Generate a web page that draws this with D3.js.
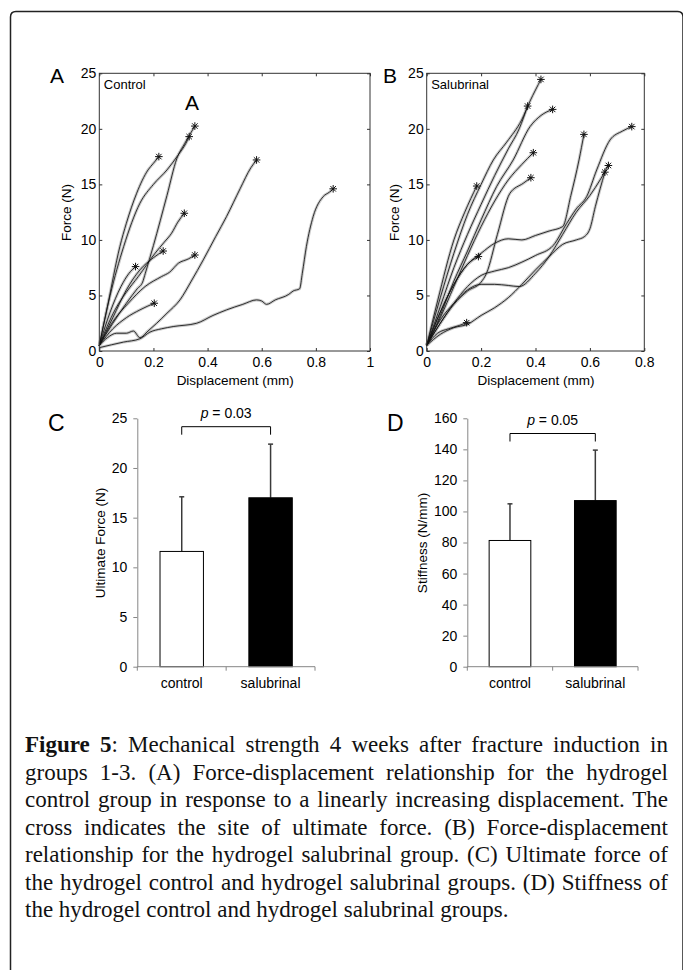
<!DOCTYPE html>
<html><head>
<meta charset="utf-8">
<title>Figure 5 - mechanical strength</title>
<script src="https://d3js.org/d3.v7.min.js"></script>
<style>
  body { margin: 0; background: #fff; }
  #wrap { position: relative; width: 683px; height: 970px; overflow: hidden; }
  svg text { font-family: "Liberation Sans", Arial, sans-serif; fill: #000; }
  #caption {
    position: absolute; left: 25px; top: 731px; width: 643px;
    font-family: "Liberation Serif", "Times New Roman", serif;
    font-size: 23px; line-height: 27.5px; color: #111;
  }
  #caption div { text-align: justify; text-align-last: justify; }
  #caption div.last { text-align-last: left; }
</style>
</head>
<body>
<div id="wrap">
  <svg id="fig" width="683" height="970"></svg>
  <div id="caption"></div>
</div>

<script>
// ---- data ----
const forceTicks = [0, 5, 10, 15, 20, 25];
const dispTicksA = [0, 0.2, 0.4, 0.6, 0.8, 1];
const dispTicksB = [0, 0.2, 0.4, 0.6, 0.8];

// each curve: [displacement (mm), force (N)], last point = ultimate force (star)
const controlCurves = [
  [[0,0.5],[0.03,4],[0.076,9.4],[0.1,11.5],[0.138,14.2],[0.18,16.3],[0.2,16.9],[0.22,17.5]],
  [[0,0.5],[0.04,5],[0.09,9.4],[0.15,13.3],[0.2,15],[0.25,16.3],[0.29,17.6],[0.32,18.7],[0.332,19.3]],
  [[0,0.5],[0.05,2.5],[0.1,4.3],[0.14,5.6],[0.16,6.2],[0.17,7],[0.2,9.5],[0.25,14],[0.286,17.3],[0.316,18.7],[0.353,20.25]],
  [[0,0.5],[0.058,3.7],[0.1,5.3],[0.144,6.7],[0.206,8.8],[0.24,9.8],[0.267,10.6],[0.29,11.6],[0.314,12.4]],
  [[0,0.5],[0.05,3],[0.1,5.5],[0.15,7.3],[0.2,8.4],[0.236,9.0]],
  [[0,0.5],[0.046,2.5],[0.107,4.3],[0.169,5.8],[0.23,6.7],[0.26,7.1],[0.292,7.9],[0.33,8.3],[0.353,8.64]],
  [[0,0.5],[0.04,3.5],[0.08,5.8],[0.11,7],[0.134,7.6]],
  [[0,0.5],[0.05,2],[0.1,3],[0.15,3.7],[0.203,4.3]],
  [[0,0.5],[0.03,1.2],[0.064,1.6],[0.1,1.6],[0.126,1.8],[0.15,1.2],[0.18,1.8],[0.212,2.5],[0.25,3.4],[0.298,4.6],[0.34,6.3],[0.384,8.2],[0.43,10.3],[0.47,12.1],[0.52,14.6],[0.56,16.5],[0.581,17.2]],
  [[0,0.3],[0.089,0.8],[0.15,1.1],[0.187,1.7],[0.23,2],[0.273,2.2],[0.36,2.5],[0.42,3.2],[0.47,3.7],[0.53,4.2],[0.581,4.6],[0.6,4.5],[0.618,4.2],[0.65,4.6],[0.7,5.1],[0.716,5.4],[0.74,5.6],[0.75,7],[0.765,9.4],[0.79,12.1],[0.827,13.9],[0.85,14.3],[0.864,14.6]]
];

const salubrinalCurves = [
  [[0,0.5],[0.04,4.5],[0.1,10],[0.14,12.5],[0.184,14.85]],
  [[0,0.5],[0.05,4.8],[0.1,8.8],[0.15,12.3],[0.2,15],[0.245,17.2],[0.294,18.8],[0.349,20.8],[0.38,22.5],[0.42,24.45]],
  [[0,0.5],[0.05,4],[0.1,7.5],[0.15,10.5],[0.2,13.2],[0.25,15.8],[0.3,18.2],[0.34,20],[0.371,22.05]],
  [[0,0.5],[0.05,3.2],[0.1,6.3],[0.15,9],[0.2,11.8],[0.257,14.8],[0.318,17.2],[0.38,20.2],[0.42,21.2],[0.463,21.75]],
  [[0,0.5],[0.05,3],[0.1,5.8],[0.15,8.6],[0.2,11.2],[0.25,13.5],[0.3,15.4],[0.35,16.8],[0.392,17.85]],
  [[0,0.5],[0.05,2.5],[0.1,4.2],[0.15,5.4],[0.2,6.2],[0.22,7],[0.26,10.5],[0.306,14.2],[0.355,15.1],[0.383,15.6]],
  [[0,0.5],[0.05,3.5],[0.1,6],[0.15,7.8],[0.2,8.8],[0.25,9.7],[0.3,10.1],[0.35,10],[0.4,10.4],[0.45,10.8],[0.5,11.2],[0.53,14],[0.56,17.2],[0.578,19.5]],
  [[0,0.5],[0.05,2.5],[0.1,4.3],[0.15,5.8],[0.2,6.8],[0.25,7.2],[0.3,7.5],[0.35,8],[0.4,8.6],[0.465,9.5],[0.515,11.5],[0.55,12.8],[0.588,13.9],[0.625,16.3],[0.674,19],[0.72,19.8],[0.754,20.2]],
  [[0,0.5],[0.05,2.8],[0.1,4.3],[0.15,5.5],[0.2,6],[0.25,6],[0.3,5.9],[0.34,5.8],[0.4,7],[0.45,8.5],[0.5,10.5],[0.55,12.5],[0.6,14],[0.64,15.5],[0.668,16.7]],
  [[0,0.5],[0.05,1.5],[0.1,2.1],[0.15,2.4],[0.2,3.2],[0.25,3.9],[0.3,4.8],[0.35,6],[0.4,7.3],[0.45,8.5],[0.5,9.6],[0.55,10],[0.58,10.3],[0.6,11],[0.62,13],[0.655,16.1]],
  [[0,0.5],[0.04,1.6],[0.08,2],[0.12,2.3],[0.147,2.55]],
  [[0,0.5],[0.05,3.5],[0.1,6],[0.15,7.8],[0.19,8.5]]
];

const groups = ["control", "salubrinal"];
const ultimateMean = [11.6, 17.0];
const ultimateSD = [5.5, 5.4];
const ultimateTicks = [0, 5, 10, 15, 20, 25];
const stiffMean = [81.3, 107];
const stiffSD = [23.6, 32.5];
const stiffTicks = [0, 20, 40, 60, 80, 100, 120, 140, 160];

const captionLines = [
  "<b>Figure 5</b>: Mechanical strength 4 weeks after fracture induction in",
  "groups 1-3. (A) Force-displacement relationship for the hydrogel",
  "control group in response to a linearly increasing displacement. The",
  "cross indicates the site of ultimate force. (B) Force-displacement",
  "relationship for the hydrogel salubrinal group. (C) Ultimate force of",
  "the hydrogel control and hydrogel salubrinal groups. (D) Stiffness of",
  "the hydrogel control and hydrogel salubrinal groups."
];

const svg = d3.select("#fig");

// outer frame (left, top, and the edge of the right side)
svg.append("path")
   .attr("d", "M10.5,975 V17 Q10.5,11.5 16,11.5 H677.5 Q683,11.5 683,17 V975")
   .attr("fill", "none").attr("stroke", "#222").attr("stroke-width", 1.5);

// asterisk marker like matlab '*'
function star(r) {
  const a = r * 0.72;
  return `M${-r},0L${r},0M0,${-r}L0,${r}M${-a},${-a}L${a},${a}M${-a},${a}L${a},${-a}`;
}

// ---- panels A and B ----
function curvePanel(curves, xMax, xTicks, box, name, letter) {
  const x = d3.scaleLinear().domain([0, xMax]).range([box.x0, box.x1]);
  const y = d3.scaleLinear().domain([0, 25]).range([box.y0, box.y1]);
  const g = svg.append("g");

  const line = d3.line().x(d => x(d[0])).y(d => y(d[1])).curve(d3.curveMonotoneX);

  // gray halo then dark trace
  g.selectAll("path.halo").data(curves).join("path")
    .attr("class", "halo").attr("d", line)
    .attr("fill", "none").attr("stroke", "#b4b4b4").attr("stroke-width", 3)
    .attr("stroke-opacity", 0.7).attr("stroke-linejoin", "round");
  g.selectAll("path.trace").data(curves).join("path")
    .attr("class", "trace").attr("d", line)
    .attr("fill", "none").attr("stroke", "#111").attr("stroke-width", 0.85)
    .attr("stroke-linejoin", "round");

  g.selectAll("path.star").data(curves).join("path")
    .attr("class", "star")
    .attr("transform", c => `translate(${x(c[c.length-1][0])},${y(c[c.length-1][1])})`)
    .attr("d", star(3.8))
    .attr("stroke", "#111").attr("stroke-width", 1).attr("fill", "none");

  // box
  g.append("rect").attr("x", box.x0).attr("y", box.y1)
    .attr("width", box.x1 - box.x0).attr("height", box.y0 - box.y1)
    .attr("fill", "none").attr("stroke", "#333").attr("stroke-width", 1);

  const fmt = d => String(d);
  const bottom = g.append("g").attr("transform", `translate(0,${box.y0})`)
    .call(d3.axisBottom(x).tickValues(xTicks).tickFormat(fmt).tickSizeInner(-3).tickSizeOuter(0).tickPadding(6));
  const top = g.append("g").attr("transform", `translate(0,${box.y1})`)
    .call(d3.axisTop(x).tickValues(xTicks).tickFormat("").tickSizeInner(-3).tickSizeOuter(0));
  const left = g.append("g").attr("transform", `translate(${box.x0},0)`)
    .call(d3.axisLeft(y).tickValues(forceTicks).tickFormat(fmt).tickSizeInner(-3).tickSizeOuter(0).tickPadding(3));
  const right = g.append("g").attr("transform", `translate(${box.x1},0)`)
    .call(d3.axisRight(y).tickValues(forceTicks).tickFormat("").tickSizeInner(-3).tickSizeOuter(0));
  [bottom, top, left, right].forEach(a => {
    a.select(".domain").remove();
    a.selectAll("line").attr("stroke", "#333");
    a.selectAll("text").attr("font-size", 14).attr("font-family", "Liberation Sans, Arial, sans-serif").attr("fill", "#000");
  });

  g.append("text").attr("x", (box.x0 + box.x1) / 2 + 0.5).attr("y", 385)
    .attr("text-anchor", "middle").attr("font-size", 13.5).text("Displacement (mm)");
  g.append("text").attr("transform", `translate(${box.x0 - 28},212.5) rotate(-90)`)
    .attr("text-anchor", "middle").attr("font-size", 13.5).text("Force (N)");
  g.append("text").attr("x", box.x0 + 4.5).attr("y", 89).attr("font-size", 13).text(name);
  g.append("text").attr("x", letter.x).attr("y", 83).attr("font-size", 21).text(letter.t);
  return {x, y};
}

curvePanel(controlCurves, 1, dispTicksA, {x0: 99.3, x1: 370, y0: 351, y1: 73.3}, "Control", {t: "A", x: 50});
curvePanel(salubrinalCurves, 0.8, dispTicksB, {x0: 426.7, x1: 644.3, y0: 351, y1: 73.3}, "Salubrinal", {t: "B", x: 383});

// the stray letter inside panel A
svg.append("text").attr("x", 185).attr("y", 110).attr("font-size", 21).text("A");

// ---- panels C and D ----
function barPanel(means, sds, ticks, yMax, box, title, titleX, pText, bracketY, letter) {
  const x = d3.scaleBand().domain(groups).range([box.x0, box.x1]).paddingInner(0.5).paddingOuter(0.25);
  const y = d3.scaleLinear().domain([0, yMax]).range([box.y0, box.y1]);
  const g = svg.append("g");
  const axisGray = "#868686";

  const rows = groups.map((k, i) => ({k, m: means[i], sd: sds[i]}));

  // error bars (upper only)
  g.selectAll("line.err").data(rows).join("line").attr("class", "err")
    .attr("x1", d => x(d.k) + x.bandwidth() / 2).attr("x2", d => x(d.k) + x.bandwidth() / 2)
    .attr("y1", d => y(d.m)).attr("y2", d => y(d.m + d.sd))
    .attr("stroke", "#3a3a3a").attr("stroke-width", 1.5);
  g.selectAll("line.cap").data(rows).join("line").attr("class", "cap")
    .attr("x1", d => x(d.k) + x.bandwidth() / 2 - 2.5).attr("x2", d => x(d.k) + x.bandwidth() / 2 + 2.5)
    .attr("y1", d => y(d.m + d.sd)).attr("y2", d => y(d.m + d.sd))
    .attr("stroke", "#3a3a3a").attr("stroke-width", 1.5);

  g.selectAll("rect.bar").data(rows).join("rect").attr("class", "bar")
    .attr("x", d => x(d.k) + 0.5).attr("width", x.bandwidth() - 1)
    .attr("y", d => y(d.m)).attr("height", d => box.y0 - y(d.m))
    .attr("fill", (d, i) => i === 0 ? "#fff" : "#000")
    .attr("stroke", "#000").attr("stroke-width", 1);

  // y axis
  const ya = g.append("g").attr("transform", `translate(${box.x0},0)`)
    .call(d3.axisLeft(y).tickValues(ticks).tickSizeInner(4).tickSizeOuter(0).tickPadding(6));
  ya.select(".domain").attr("stroke", axisGray);
  ya.selectAll("line").attr("stroke", axisGray);
  ya.selectAll("text").attr("font-size", 14).attr("font-family", "Liberation Sans, Arial, sans-serif").attr("fill", "#000");

  // x axis with category boundary ticks
  const xa = g.append("g").attr("transform", `translate(0,${box.y0})`);
  xa.append("line").attr("x1", box.x0).attr("x2", box.x1).attr("stroke", axisGray);
  const bounds = [box.x0, (box.x0 + box.x1) / 2, box.x1];
  xa.selectAll("line.tk").data(bounds).join("line").attr("class", "tk")
    .attr("x1", d => d).attr("x2", d => d).attr("y1", 0).attr("y2", 4).attr("stroke", axisGray);
  xa.selectAll("text").data(groups).join("text")
    .attr("x", d => x(d) + x.bandwidth() / 2).attr("y", 21.5)
    .attr("text-anchor", "middle").attr("font-size", 14).text(d => d);

  // significance bracket
  const cx = groups.map(k => x(k) + x.bandwidth() / 2);
  g.append("path")
    .attr("d", `M${cx[0]},${bracketY + 8} V${bracketY} H${cx[1]} V${bracketY + 8}`)
    .attr("fill", "none").attr("stroke", "#000").attr("stroke-width", 1);
  const pt = g.append("text").attr("x", (cx[0] + cx[1]) / 2).attr("y", bracketY - 8.5)
    .attr("text-anchor", "middle").attr("font-size", 14);
  pt.append("tspan").attr("font-style", "italic").text("p");
  pt.append("tspan").text(" = " + pText);

  g.append("text").attr("transform", `translate(${titleX},543) rotate(-90)`)
    .attr("text-anchor", "middle").attr("font-size", 13.5).text(title);
  g.append("text").attr("x", letter.x).attr("y", 431).attr("font-size", 23).text(letter.t);
}

barPanel(ultimateMean, ultimateSD, ultimateTicks, 25,
  {x0: 137.3, x1: 315, y0: 666.7, y1: 418.3}, "Ultimate Force (N)", 104.5, "0.03", 426.7, {t: "C", x: 48});
barPanel(stiffMean, stiffSD, stiffTicks, 160,
  {x0: 467.3, x1: 638, y0: 666.7, y1: 418.3}, "Stiffness (N/mm)", 426.5, "0.05", 433.5, {t: "D", x: 387});

// ---- caption ----
d3.select("#caption").selectAll("div").data(captionLines).join("div")
  .classed("last", (d, i) => i === captionLines.length - 1)
  .html(d => d);
</script>
</body>
</html>
